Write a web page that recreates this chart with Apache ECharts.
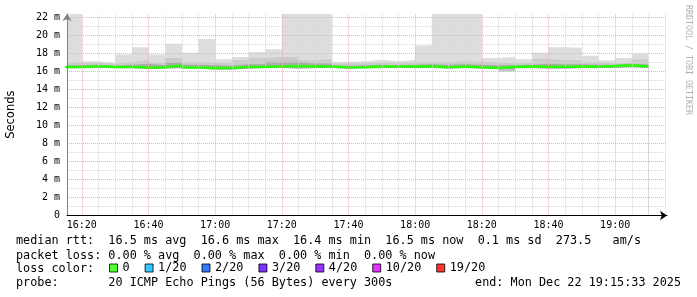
<!DOCTYPE html>
<html><head><meta charset="utf-8">
<script src="https://cdn.jsdelivr.net/npm/echarts@6/dist/echarts.min.js"></script>
<style>html,body{margin:0;padding:0;background:#fff}#c{width:697px;height:297px}</style>
</head><body><div id="c"></div>
<script>
// ---------------- data ----------------
const axisStart = '16:15:33';
const axisEnd = '19:15:33';
const binStarts = ['16:15','16:20','16:25','16:30','16:35','16:40','16:45','16:50','16:55',
  '17:00','17:05','17:10','17:15','17:20','17:25','17:30','17:35','17:40','17:45','17:50','17:55',
  '18:00','18:05','18:10','18:15','18:20','18:25','18:30','18:35','18:40','18:45','18:50','18:55',
  '19:00','19:05'];
const lastBinEnd = '19:10';
// values in ms
const rttMax = [22.4,17.14,16.95,17.9,18.7,17.9,19.07,18.07,19.6,17.37,17.62,18.14,18.48,22.4,22.4,22.4,
  17.05,17.14,17.3,17.14,17.28,18.88,22.4,22.4,22.4,17.5,17.6,17.37,18.07,18.7,18.63,17.74,17.26,17.5,17.96];
const rttP90 = [17.0,16.96,16.85,17.07,17.25,16.97,17.5,17.07,17.0,16.93,17.26,17.5,17.62,17.6,17.26,17.4,
  16.9,16.93,17.0,16.93,17.0,17.07,17.07,17.14,17.07,17.0,16.88,17.0,17.4,17.26,17.26,17.03,16.88,16.97,17.33];
const rttP75 = [16.7,16.75,16.65,16.75,16.85,16.7,17.0,16.75,16.7,16.65,16.8,16.8,17.07,17.07,16.9,16.9,
  16.65,16.7,16.75,16.7,16.75,16.8,16.75,16.8,16.75,16.7,16.7,16.75,16.85,16.8,16.8,16.75,16.75,16.85,16.8];
const rttMedian = [16.5,16.58,16.5,16.5,16.45,16.48,16.68,16.45,16.4,16.4,16.5,16.52,16.55,16.6,16.56,16.56,
  16.45,16.48,16.56,16.56,16.56,16.58,16.48,16.55,16.48,16.4,16.52,16.56,16.52,16.52,16.55,16.52,16.6,16.7,16.56];
const rttP25 = [16.4,16.45,16.4,16.4,16.3,16.35,16.5,16.3,16.25,16.25,16.35,16.4,16.45,16.35,16.4,16.45,
  16.35,16.4,16.4,16.45,16.4,16.45,16.35,16.4,16.35,16.35,16.38,16.4,16.35,16.35,16.4,16.4,16.45,16.5,16.45];
const rttP10 = [16.38,16.42,16.38,16.38,16.27,16.32,16.42,16.27,16.22,16.22,16.32,16.38,16.42,16.32,16.38,16.42,
  16.32,16.38,16.38,16.42,16.38,16.42,16.32,16.38,16.32,16.32,16.3,16.38,16.32,16.32,16.38,16.38,16.42,16.47,16.42];
const rttMin = [16.35,16.4,16.35,16.35,16.25,16.3,16.35,16.3,16.2,16.2,16.3,16.35,16.4,16.3,16.35,16.4,
  16.3,16.35,16.35,16.4,16.35,16.4,16.3,16.35,16.3,16.3,16.0,16.35,16.3,16.3,16.35,16.35,16.4,16.45,16.4];

const xMajorTicks = ['16:20','16:40','17:00','17:20','17:40','18:00','18:20','18:40','19:00'];
const xMinorTicks = ['16:25','16:30','16:35','16:45','16:50','16:55','17:05','17:10','17:15','17:25','17:30',
  '17:35','17:45','17:50','17:55','18:05','18:10','18:15','18:25','18:30','18:35','18:45','18:50','18:55',
  '19:05','19:10','19:15'];
const yMajorTicks = [2,4,6,8,10,12,14,16,18,20,22];
const yMinorTicks = [1,3,5,7,9,11,13,15,17,19,21];
const yMax = 22.4;

const lossLabels = ['0','1/20','2/20','3/20','4/20','10/20','19/20'];
const lossColors = ['#26ff00','#00b8ff','#0059ff','#5e00ff','#7e00ff','#dd00ff','#ff0000'];

const lineMedian = 'median rtt:  16.5 ms avg  16.6 ms max  16.4 ms min  16.5 ms now  0.1 ms sd  273.5   am/s';
const lineLoss = 'packet loss: 0.00 % avg  0.00 % max  0.00 % min  0.00 % now';
const lineColor = 'loss color:';
const lineProbe = 'probe:       20 ICMP Echo Pings (56 Bytes) every 300s';
const lineEnd = 'end: Mon Dec 22 19:15:33 2025';
const yAxisTitle = 'Seconds';
const credit = 'RRDTOOL / TOBI OETIKER';

// ---------------- build ----------------
function toMin(s){ const p = s.split(':').map(Number); return (p[0]-16)*60 + p[1] + (p[2]||0)/60; }
function fmt(m){ const h = 16 + Math.floor(m/60); const mm = Math.round(m%60); return h + ':' + (mm<10?'0':'') + mm; }
const xs = binStarts.map(toMin).concat([toMin(lastBinEnd)]);
const ext = a => a.concat([a[a.length-1]]);
const pts = v => ext(v).map((y,i)=>[xs[i], y]);

const MONO = 'DejaVu Sans Mono';
const MAJOR = '#eeb0b0', MINOR = '#d6d6d6';
const hidden = {opacity:0, width:0};

// smoke: painted from outermost to innermost, each filled down to the axis
function smoke(vals, color){
  return {type:'line', step:'end', data:pts(vals), symbol:'none', lineStyle:hidden,
    areaStyle:{color:color, opacity:1, origin:'start'}, silent:true, z:2};
}

const gridLines = []
  .concat(xMinorTicks.map(t=>({xAxis:toMin(t), lineStyle:{color:MINOR, type:[1,1], width:1}})))
  .concat(xMajorTicks.map(t=>({xAxis:toMin(t), lineStyle:{color:MAJOR, type:[1,1], width:1}})))
  .concat(yMinorTicks.map(v=>({yAxis:v, lineStyle:{color:MINOR, type:[1,1], width:1}})))
  .concat(yMajorTicks.map(v=>({yAxis:v, lineStyle:{color:MAJOR, type:[1,1], width:1}})));

const series = [
    smoke(rttMax, '#dddddd'),
    smoke(rttP90, '#cbcbcb'),
    smoke(rttP75, '#ababab'),
    smoke(rttP25, '#909090'),
    smoke(rttP10, '#c4c4c4'),
    smoke(rttMin, '#ffffff')
  ]
  .concat([{type:'line', data:[], z:3, silent:true,
      markLine:{silent:true, symbol:['none','none'], label:{show:false}, animation:false, data:gridLines}}])
  .concat([{type:'line', step:'end', data:pts(rttMedian), symbol:'none',
      lineStyle:{color:lossColors[0], width:2.5}, silent:true, z:4}])
  .concat(lossLabels.map((n,i)=>({type:'scatter', name:n, data:[], symbol:'rect', itemStyle:{color:lossColors[i]}})));

const FONT = '11.8px ' + MONO;
const textEl = (x, y, t, align) => ({type:'text', x:x, y:y,
  style:{text:t, font:FONT, fill:'#000', verticalAlign:'middle', align:align||'left'}});
const graphics = [
  textEl(16, 241, lineMedian),
  textEl(16, 255.5, lineLoss),
  textEl(16, 269, lineColor),
  textEl(16, 282.5, lineProbe),
  textEl(681, 282.5, lineEnd, 'right'),
  {type:'text', x:688, y:5, rotation:-Math.PI/2,
    style:{text:credit, font:'8.3px ' + MONO, fill:'#b0b0b0', align:'left', verticalAlign:'middle'}}
];

const chart = echarts.init(document.getElementById('c'), null, {renderer:'canvas'});
chart.setOption({
  animation:false,
  backgroundColor:'#ffffff',
  grid:{left:67, right:30, top:13.9, bottom:81.5, containLabel:false, outerBoundsMode:'none'},
  xAxis:{type:'value', min:toMin(axisStart), max:toMin(axisEnd), z:10,
    axisLine:{show:true, lineStyle:{color:'#000', width:1}, symbol:['none','arrow'], symbolSize:[7,7]},
    axisTick:{show:false},
    axisLabel:{customValues:xMajorTicks.map(toMin), formatter:v=>fmt(v), color:'#000',
      fontFamily:MONO, fontSize:10, margin:5},
    splitLine:{show:false}},
  yAxis:{type:'value', min:0, max:yMax, interval:2, z:10,
    axisLine:{show:true, lineStyle:{color:'#808080', width:1}, symbol:['none','arrow'], symbolSize:[7,7]},
    axisTick:{show:false},
    axisLabel:{formatter:v=>(v===0?'0':(v%2===0? v+' m' : '')), showMaxLabel:false, color:'#000',
      fontFamily:MONO, fontSize:10, margin:7},
    splitLine:{show:false},
    name:yAxisTitle, nameLocation:'middle', nameGap:50,
    nameTextStyle:{fontFamily:'DejaVu Sans', fontSize:11.5, color:'#000'}},
  legend:{data:lossLabels, left:109, top:262, icon:'rect', itemWidth:8, itemHeight:8, itemGap:15,
    padding:0, selectedMode:false,
    itemStyle:{borderColor:'#000', borderWidth:1},
    textStyle:{fontFamily:MONO, fontSize:11.8, color:'#000'}},
  graphic:graphics,
  series:series
});
</script></body></html>
